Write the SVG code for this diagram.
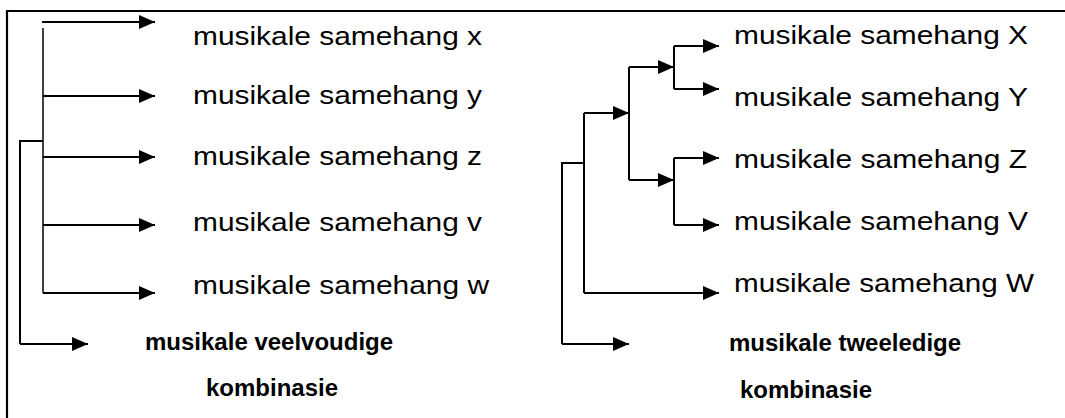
<svg xmlns="http://www.w3.org/2000/svg" width="1065" height="418" viewBox="0 0 1065 418">
  <defs>
    <marker id="arrow" markerUnits="userSpaceOnUse" markerWidth="16" markerHeight="14" refX="16" refY="7" orient="auto">
      <path d="M0,0 L16,7 L0,14 Z" fill="#000"/>
    </marker>
    <style>
      .frame { fill: none; stroke: #000; stroke-width: 2.2; }
      .link { fill: none; stroke: #000; stroke-width: 2; }
      .thin { stroke-width: 1.5; }
      .arr { marker-end: url(#arrow); }
      .lbl { font-family: "Liberation Sans", Arial, sans-serif; font-size: 26px; fill: #000; }
      .ttl { font-family: "Liberation Sans", Arial, sans-serif; font-size: 24px; font-weight: bold; fill: #000; }
    </style>
  </defs>
  <rect width="1065" height="418" fill="#fff"/>

  <!-- outer frame (top and left edges) -->
  <path class="frame" d="M6,11 H1065 M7,11 V418"/>

  <!-- connectors -->
  <g id="connectors">
    <!-- multiple combination tree -->
    <path class="link arr" d="M42,22 H155"/>
    <path class="link thin" d="M43,28 V293"/>
    <path class="link arr" d="M43,96 H155"/>
    <path class="link arr" d="M43,157 H155"/>
    <path class="link arr" d="M43,225 H155"/>
    <path class="link arr" d="M43,293 H155"/>
    <path class="link" d="M43,141 H20 V344"/>
    <path class="link arr" d="M20,344 H88"/>

    <!-- binary combination tree -->
    <path class="link" d="M584,163 H562 V344"/>
    <path class="link arr" d="M562,344 H629"/>
    <path class="link" d="M584,113 V293"/>
    <path class="link arr" d="M584,293 H719"/>
    <path class="link arr" d="M584,113 H629"/>
    <path class="link" d="M629,67 V180"/>
    <path class="link arr" d="M629,67 H674"/>
    <path class="link arr" d="M629,180 H674"/>
    <path class="link" d="M674,46 V89"/>
    <path class="link arr" d="M674,46 H719"/>
    <path class="link arr" d="M674,89 H719"/>
    <path class="link" d="M674,158 V225"/>
    <path class="link arr" d="M674,158 H719"/>
    <path class="link arr" d="M674,225 H719"/>
  </g>

  <!-- left column -->
  <g id="node-x"><text class="lbl" x="193" y="45" textLength="289" lengthAdjust="spacingAndGlyphs">musikale samehang x</text></g>
  <g id="node-y"><text class="lbl" x="193" y="104" textLength="289" lengthAdjust="spacingAndGlyphs">musikale samehang y</text></g>
  <g id="node-z"><text class="lbl" x="193" y="165" textLength="289" lengthAdjust="spacingAndGlyphs">musikale samehang z</text></g>
  <g id="node-v"><text class="lbl" x="193" y="231" textLength="289" lengthAdjust="spacingAndGlyphs">musikale samehang v</text></g>
  <g id="node-w"><text class="lbl" x="193" y="294" textLength="296" lengthAdjust="spacingAndGlyphs">musikale samehang w</text></g>
  <g id="node-veelvoudig">
    <text class="ttl" x="145" y="350">musikale veelvoudige</text>
    <text class="ttl" x="206" y="396">kombinasie</text>
  </g>

  <!-- right column -->
  <g id="node-X"><text class="lbl" x="734" y="44" textLength="294" lengthAdjust="spacingAndGlyphs">musikale samehang X</text></g>
  <g id="node-Y"><text class="lbl" x="734" y="106" textLength="294" lengthAdjust="spacingAndGlyphs">musikale samehang Y</text></g>
  <g id="node-Z"><text class="lbl" x="734" y="168" textLength="293" lengthAdjust="spacingAndGlyphs">musikale samehang Z</text></g>
  <g id="node-V"><text class="lbl" x="734" y="230" textLength="294" lengthAdjust="spacingAndGlyphs">musikale samehang V</text></g>
  <g id="node-W"><text class="lbl" x="734" y="292" textLength="300" lengthAdjust="spacingAndGlyphs">musikale samehang W</text></g>
  <g id="node-tweeledig">
    <text class="ttl" x="729" y="351">musikale tweeledige</text>
    <text class="ttl" x="740" y="398">kombinasie</text>
  </g>
</svg>
